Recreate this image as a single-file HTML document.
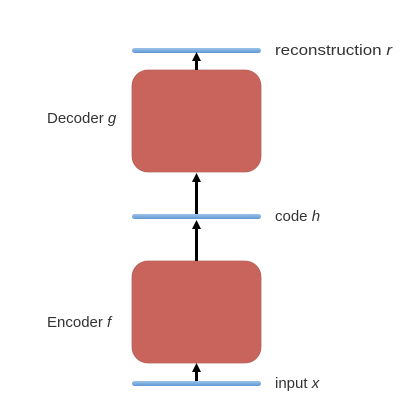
<!DOCTYPE html>
<html><head><style>
html,body{margin:0;padding:0;background:#fff;}
</style></head><body>
<svg width="400" height="400" xmlns="http://www.w3.org/2000/svg" style="display:block">
<defs>
<linearGradient id="bar" x1="0" y1="0" x2="0" y2="1">
<stop offset="0" stop-color="#9cc3ea"/><stop offset="1" stop-color="#5f97d4"/>
</linearGradient>
</defs>
<rect width="400" height="400" fill="#fff"/>
<rect x="132" y="48" width="129" height="5" rx="2.5" fill="url(#bar)"/>
<rect x="132" y="214" width="129" height="5" rx="2.5" fill="url(#bar)"/>
<rect x="132" y="381" width="129" height="5" rx="2.5" fill="url(#bar)"/>
<rect x="132" y="70" width="129" height="102" rx="16" fill="#c9645d" stroke="#b5625c" stroke-width="0.8"/>
<rect x="132" y="261" width="129" height="102" rx="16" fill="#c9645d" stroke="#b5625c" stroke-width="0.8"/>
<g stroke="#000" stroke-width="3">
<line x1="196.5" y1="70" x2="196.5" y2="60"/>
<line x1="196.5" y1="214" x2="196.5" y2="181"/>
<line x1="196.5" y1="261" x2="196.5" y2="228"/>
<line x1="196.5" y1="381" x2="196.5" y2="371"/>
</g>
<g fill="#000">
<polygon points="196.5,52 192,61 201,61"/>
<polygon points="196.5,173 192,182 201,182"/>
<polygon points="196.5,220 192,229 201,229"/>
<polygon points="196.5,363 192,372 201,372"/>
</g>
<g font-family="Liberation Sans, sans-serif" font-size="15" fill="#333">
<text x="275" y="55" textLength="117" lengthAdjust="spacingAndGlyphs">reconstruction <tspan font-style="italic">r</tspan></text>
<text x="47" y="123">Decoder <tspan font-style="italic">g</tspan></text>
<text x="275" y="221">code <tspan font-style="italic">h</tspan></text>
<text x="47" y="327">Encoder <tspan font-style="italic">f</tspan></text>
<text x="275" y="388">input <tspan font-style="italic">x</tspan></text>
</g>
</svg>
</body></html>
